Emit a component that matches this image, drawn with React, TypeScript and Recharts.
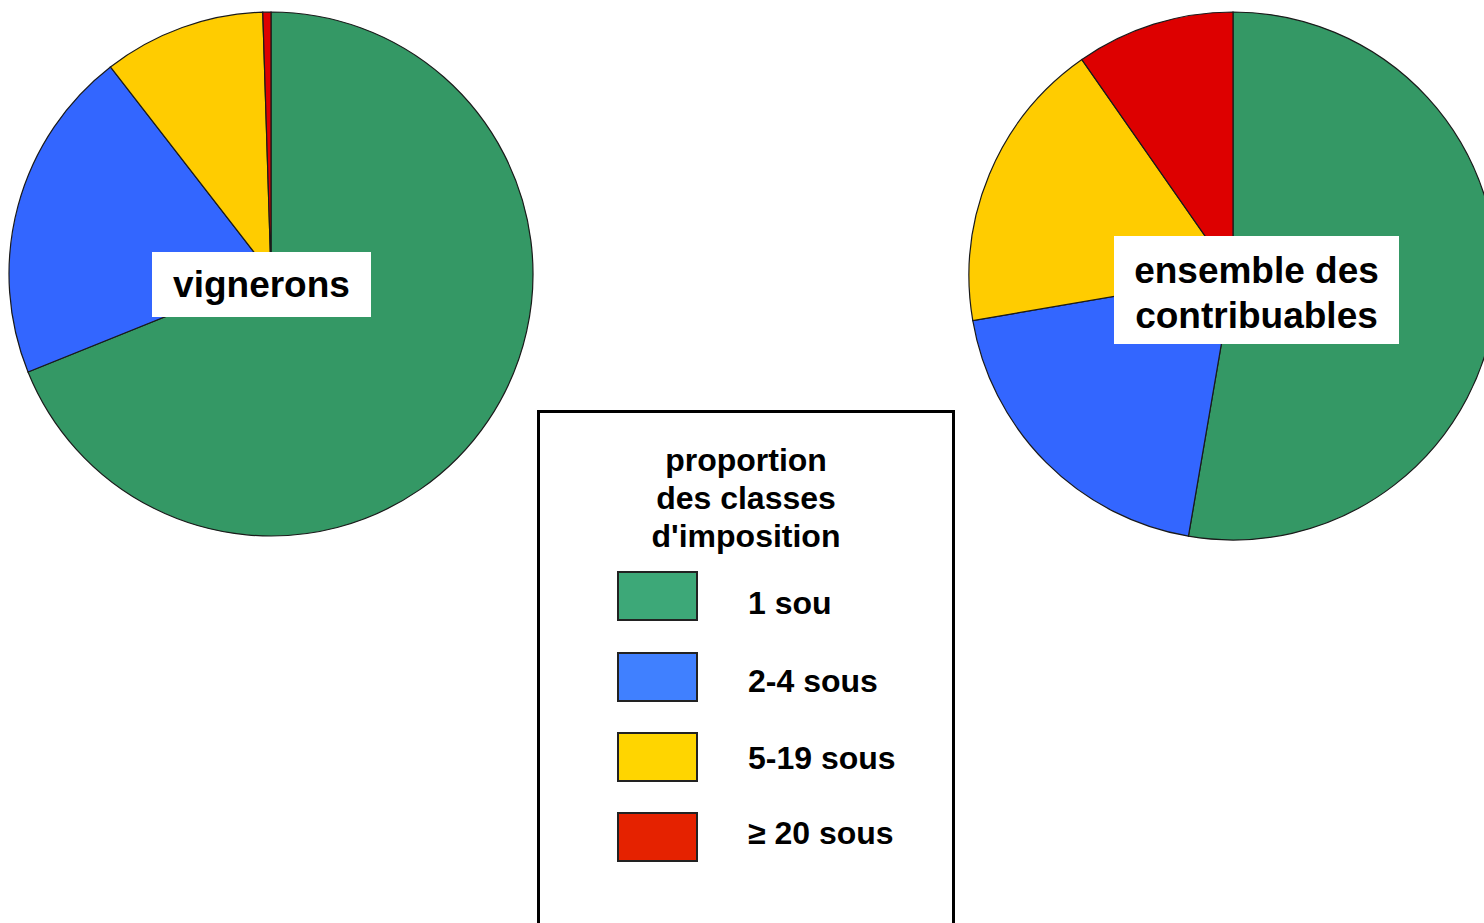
import React from 'react'
import { PieChart, Pie, Cell } from 'recharts'

const classes = ['1 sou', '2-4 sous', '5-19 sous', '≥ 20 sous']
const vignerons = [68.9, 20.6, 10.0, 0.5]
const ensemble = [52.7, 19.6, 18.0, 9.7]

const PIE_COLORS = ['#349865', '#3366ff', '#ffcc00', '#dd0000']
const KEY_COLORS = ['#3da878', '#4080ff', '#ffd500', '#e52200']

const legendTitle = ['proportion', 'des classes', "d'imposition"]
const pieLabelLeft = ['vignerons']
const pieLabelRight = ['ensemble des', 'contribuables']

const FONT = '"Liberation Sans", Arial, Helvetica, sans-serif'

const toRows = (values: number[]) => classes.map((name, i) => ({ name, value: values[i] }))

const keyTops = [585, 663, 740, 815]
const swatchTops = [571, 652, 732, 812]

export default function App() {
  const left = toRows(vignerons)
  const right = toRows(ensemble)

  return (
    <div
      style={{
        position: 'absolute',
        left: 0,
        top: 0,
        width: 1484,
        height: 923,
        overflow: 'hidden',
        background: '#fff',
        fontFamily: FONT,
        fontWeight: 'bold',
        color: '#000',
      }}
    >
      <PieChart width={1484} height={923} margin={{ top: 0, right: 0, bottom: 0, left: 0 }}>
        <Pie
          data={left}
          dataKey="value"
          cx={271}
          cy={274}
          outerRadius={262}
          startAngle={90}
          endAngle={-270}
          stroke="#1a1a1a"
          strokeWidth={1.2}
          isAnimationActive={false}
        >
          {left.map((_, i) => (
            <Cell key={i} fill={PIE_COLORS[i]} />
          ))}
        </Pie>
        <Pie
          data={right}
          dataKey="value"
          cx={1233}
          cy={276}
          outerRadius={264}
          startAngle={90}
          endAngle={-270}
          stroke="#1a1a1a"
          strokeWidth={1.2}
          isAnimationActive={false}
        >
          {right.map((_, i) => (
            <Cell key={i} fill={PIE_COLORS[i]} />
          ))}
        </Pie>
      </PieChart>

      {/* pie captions */}
      <div
        style={{
          position: 'absolute',
          left: 152,
          top: 252,
          width: 219,
          height: 65,
          background: '#fff',
          textAlign: 'center',
          fontSize: 37,
          lineHeight: '65px',
        }}
      >
        {pieLabelLeft.map((t) => (
          <div key={t}>{t}</div>
        ))}
      </div>
      <div
        style={{
          position: 'absolute',
          left: 1114,
          top: 236,
          width: 285,
          height: 96,
          paddingTop: 12,
          background: '#fff',
          textAlign: 'center',
          fontSize: 37,
          lineHeight: '45px',
        }}
      >
        {pieLabelRight.map((t) => (
          <div key={t}>{t}</div>
        ))}
      </div>

      {/* legend box */}
      <div
        style={{
          position: 'absolute',
          left: 537,
          top: 410,
          width: 412,
          height: 540,
          border: '3px solid #000',
          background: '#fff',
        }}
      />
      <div
        style={{
          position: 'absolute',
          left: 537,
          top: 441,
          width: 418,
          textAlign: 'center',
          fontSize: 32,
          lineHeight: '38px',
        }}
      >
        {legendTitle.map((t) => (
          <div key={t}>{t}</div>
        ))}
      </div>
      {classes.map((c, i) => (
        <React.Fragment key={c}>
          <div
            style={{
              position: 'absolute',
              left: 617,
              top: swatchTops[i],
              width: 77,
              height: 46,
              background: KEY_COLORS[i],
              border: '2px solid #222',
            }}
          />
          <div
            style={{
              position: 'absolute',
              left: 748,
              top: keyTops[i],
              fontSize: 32,
              lineHeight: '36px',
              whiteSpace: 'nowrap',
            }}
          >
            {c}
          </div>
        </React.Fragment>
      ))}
    </div>
  )
}
